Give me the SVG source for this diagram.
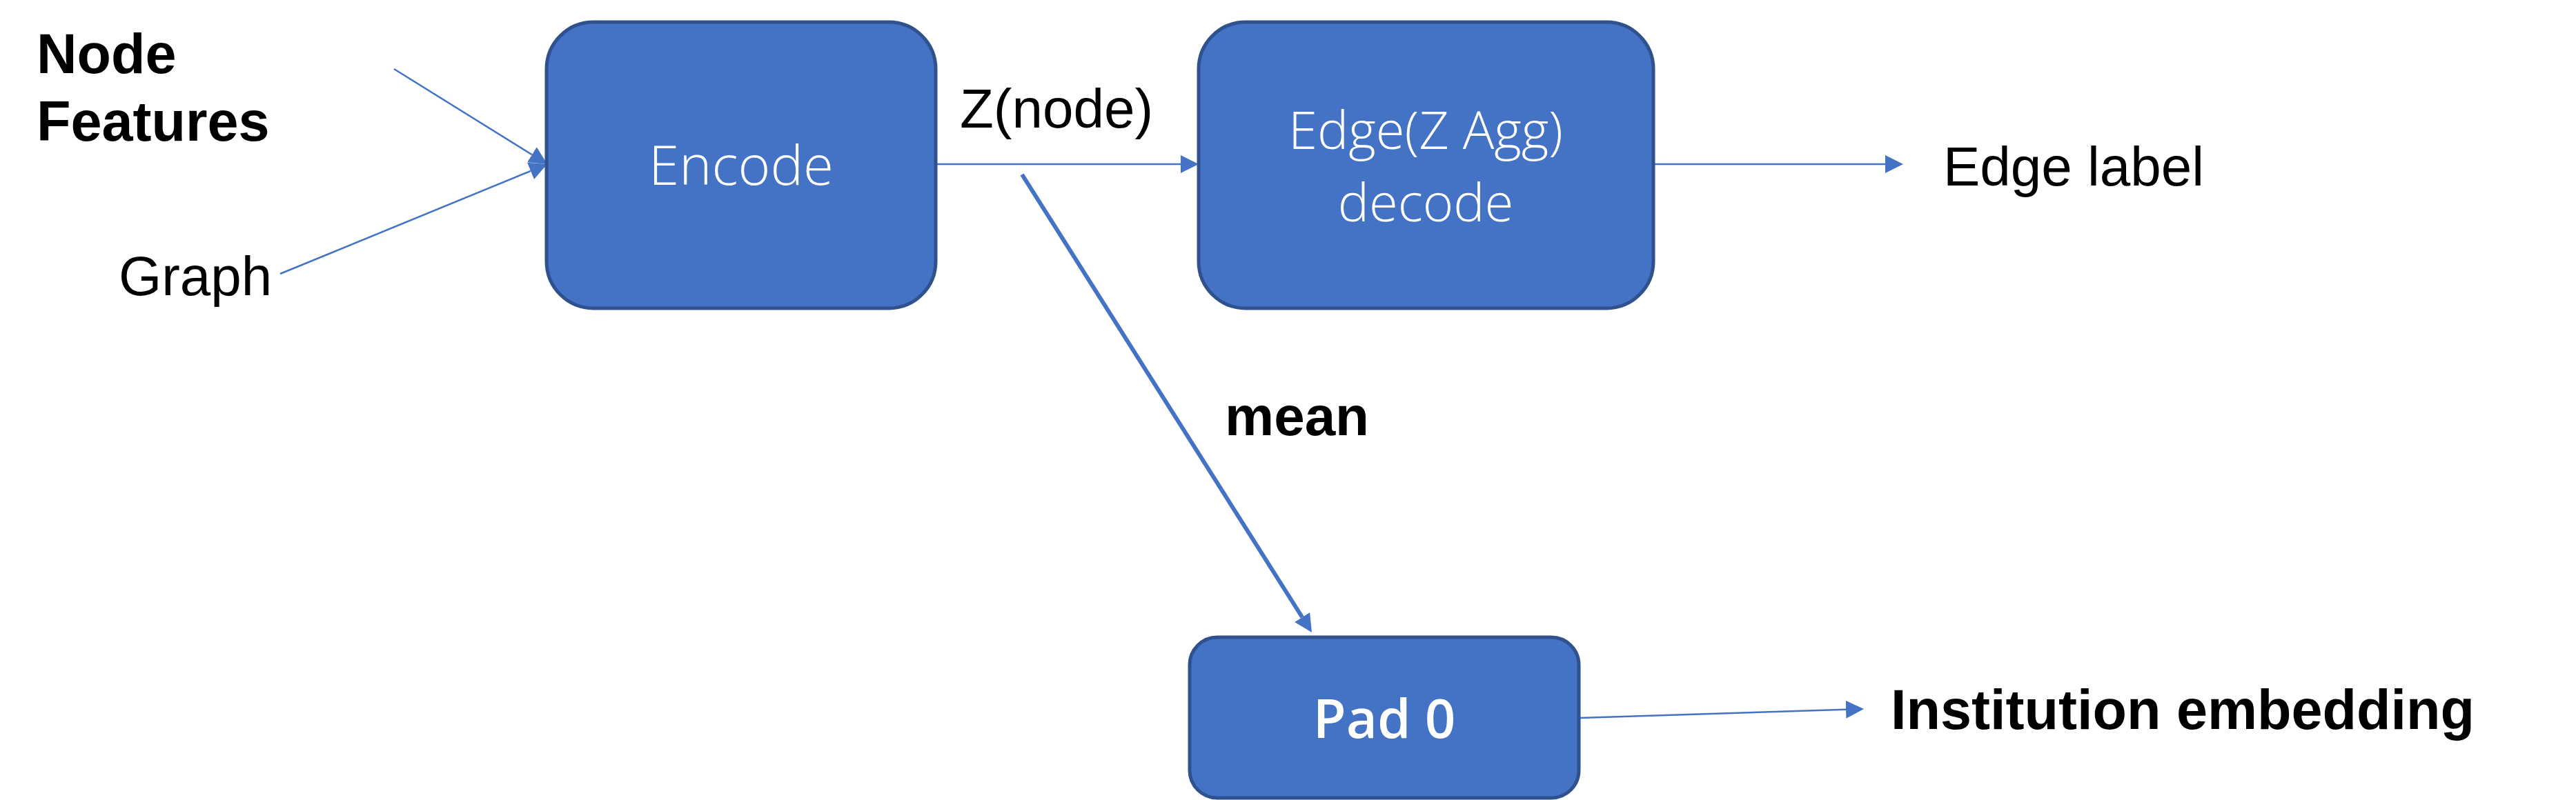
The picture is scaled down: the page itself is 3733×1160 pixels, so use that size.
<svg xmlns="http://www.w3.org/2000/svg" width="3733" height="1160" viewBox="0 0 3733 1160">
<defs>
<style>
.box{fill:#4472C4;stroke:#2F528F;stroke-width:5}
.btxt{fill:#FFFFFF;font-family:"Open Sans","Noto Sans",sans-serif;font-weight:300;font-size:80px;text-anchor:middle}
.btxtb{fill:#FFFFFF;font-family:"Open Sans","Noto Sans",sans-serif;font-weight:600;font-size:78px;text-anchor:middle}
.lbl{fill:#000000;font-family:"Liberation Sans",Arial,sans-serif;font-size:80px}
.lblb{fill:#000000;font-family:"Liberation Sans",Arial,sans-serif;font-size:81px;font-weight:bold}
.thin{stroke:#4472C4;stroke-width:2.5;fill:none}
.thick{stroke:#4472C4;stroke-width:6;fill:none}
</style>
<marker id="ah" markerUnits="userSpaceOnUse" markerWidth="26" markerHeight="26" refX="0" refY="13" orient="auto" viewBox="0 0 26 26">
<path d="M0,0 L26,13 L0,26 z" fill="#4472C4"/>
</marker>
</defs>
<rect width="3733" height="1160" fill="#FFFFFF"/>
<g id="connectors">
<line class="thin" x1="571" y1="100" x2="770.9" y2="224.3" marker-end="url(#ah)"/>
<line class="thin" x1="406" y1="397" x2="769" y2="247.9" marker-end="url(#ah)"/>
<line class="thin" x1="1357" y1="238" x2="1711" y2="238" marker-end="url(#ah)"/>
<line class="thin" x1="2396" y1="238" x2="2732" y2="238" marker-end="url(#ah)"/>
<line class="thick" x1="1481" y1="253" x2="1887.1" y2="895" marker-end="url(#ah)"/>
<line class="thin" x1="2289" y1="1041" x2="2675" y2="1028.8" marker-end="url(#ah)"/>
</g>
<g id="encode">
<rect class="box" x="792" y="32" width="564" height="415" rx="68" ry="68"/>
<text class="btxt" x="1074" y="268">Encode</text>
</g>
<g id="edge-decode">
<rect class="box" x="1737" y="32" width="659" height="415" rx="68" ry="68"/>
<text class="btxt" x="2066" y="216" style="font-size:76px">Edge(Z Agg)</text>
<text class="btxt" x="2066" y="321" style="font-size:76px">decode</text>
</g>
<g id="pad0">
<rect class="box" x="1724" y="924" width="564" height="233" rx="40" ry="40"/>
<text class="btxtb" x="2006" y="1070">Pad 0</text>
</g>
<g id="labels">
<text class="lblb" x="53" y="106">Node</text>
<text class="lblb" x="53" y="204">Features</text>
<text class="lbl" x="172" y="428">Graph</text>
<text class="lbl" x="1391" y="185">Z(node)</text>
<text class="lbl" x="2816" y="269">Edge label</text>
<text class="lblb" x="1775" y="631" style="font-size:80px">mean</text>
<text class="lblb" x="2740" y="1057">Institution embedding</text>
</g>
</svg>
